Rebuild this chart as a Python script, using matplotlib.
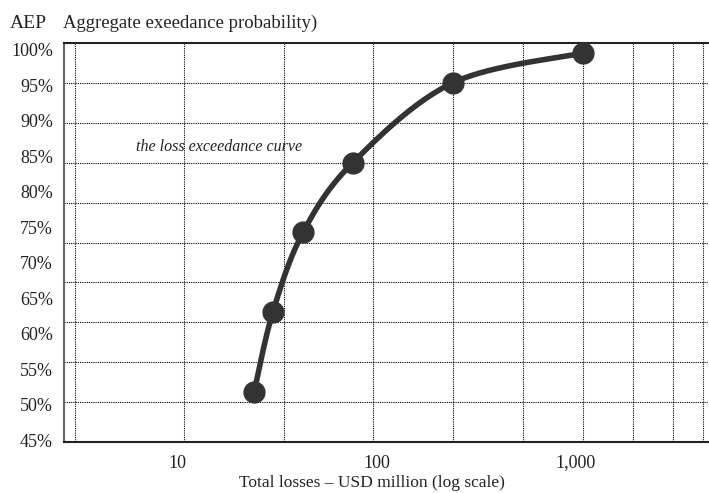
"""
Loss exceedance curve: aggregate exceedance probability vs total losses.
"""

import numpy as np
import matplotlib.pyplot as plt
from matplotlib.ticker import FixedLocator, NullFormatter

# =========================================================
# Data
# =========================================================

losses = [24.2, 30.1, 42.7, 76.0, 241.0, 1090.0]       # USD million
aep = [51.8, 63.1, 74.3, 84.1, 95.3, 99.5]               # percent

x_ticks = [10, 100, 1000]
x_tick_labels = ["10", "100", "1,000"]
y_ticks = [45, 50, 55, 60, 65, 70, 75, 80, 85, 90, 95, 100]

# vertical grid lines as drawn in the original (not log-uniform)
x_grid = [3.05, 10.8, 34.2, 95.8, 241.5, 543, 1089, 1942, 3083, 4365]

X_LIM = (2.68, 4695)
Y_LIM = (44.79, 100.91)

INK = "#333333"
TEXT = "#222222"
FONT = ["Liberation Serif", "DejaVu Serif"]


def smooth_curve(xs, ys, n=40):
    """Catmull-Rom smoothing through the points (log-x space)."""
    lx = np.log10(xs)
    y = np.asarray(ys, dtype=float)
    px = np.concatenate([[lx[0]], lx, [lx[-1]]])
    py = np.concatenate([[y[0]], y, [y[-1]]])
    out_x, out_y = [], []
    t = np.linspace(0, 1, n)
    for i in range(1, len(px) - 2):
        p0, p1, p2, p3 = px[i - 1], px[i], px[i + 1], px[i + 2]
        q0, q1, q2, q3 = py[i - 1], py[i], py[i + 1], py[i + 2]
        cx = 0.5 * (2 * p1 + (-p0 + p2) * t + (2 * p0 - 5 * p1 + 4 * p2 - p3) * t ** 2
                    + (-p0 + 3 * p1 - 3 * p2 + p3) * t ** 3)
        cy = 0.5 * (2 * q1 + (-q0 + q2) * t + (2 * q0 - 5 * q1 + 4 * q2 - q3) * t ** 2
                    + (-q0 + 3 * q1 - 3 * q2 + q3) * t ** 3)
        out_x.extend(cx)
        out_y.extend(cy)
    return 10 ** np.array(out_x), np.array(out_y)


plt.rcParams["font.family"] = FONT

fig = plt.figure(figsize=(7.09, 4.93), dpi=100)
ax = fig.add_axes([0.0903, 0.1034, 0.9097, 0.8093])

ax.set_xscale("log")
ax.set_xlim(*X_LIM)
ax.set_ylim(*Y_LIM)

# grid lines on minor ticks, labels on major ticks
ax.xaxis.set_major_locator(FixedLocator(x_ticks))
ax.set_xticklabels(x_tick_labels)
ax.xaxis.set_minor_locator(FixedLocator(x_grid))
ax.xaxis.set_minor_formatter(NullFormatter())

ax.yaxis.set_major_locator(FixedLocator(y_ticks))
ax.set_yticklabels([f"{v}%" for v in y_ticks])
ax.yaxis.set_minor_locator(FixedLocator(np.linspace(*Y_LIM, 11)[1:-1]))

ax.grid(which="minor", linestyle=(0, (1, 1)), color="black", linewidth=0.8)
ax.grid(which="major", visible=False)
ax.tick_params(which="both", length=0)
ax.tick_params(axis="y", labelsize=13, pad=8, colors=TEXT)
ax.tick_params(axis="x", labelsize=13, pad=9, colors=TEXT)

ax.spines["right"].set_visible(False)
ax.spines["top"].set_color(TEXT)
ax.spines["bottom"].set_color(TEXT)
ax.spines["left"].set_color("#666666")
for side in ("top", "bottom", "left"):
    ax.spines[side].set_linewidth(1.5)

cx, cy = smooth_curve(losses, aep)
ax.plot(cx, cy, color=INK, linewidth=4, solid_capstyle="round", zorder=3)
ax.plot(losses, aep, "o", color=INK, markersize=15, zorder=4, clip_on=False)

ax.text(0.24, 0.74, "the loss exceedance curve", transform=ax.transAxes,
        ha="center", va="center", style="italic", fontsize=11.5, color=TEXT)

fig.text(372 / 709, 1 - 483 / 493, "Total losses – USD million (log scale)",
         fontsize=12.5, ha="center", va="center", color=TEXT)

fig.text(10 / 709, 1 - 23 / 493, "AEP", fontsize=14, va="center", color=TEXT)
fig.text(63 / 709, 1 - 23 / 493, "Aggregate exeedance probability)", fontsize=13.5,
         va="center", color=TEXT)

fig.savefig("out.png", dpi=100)
